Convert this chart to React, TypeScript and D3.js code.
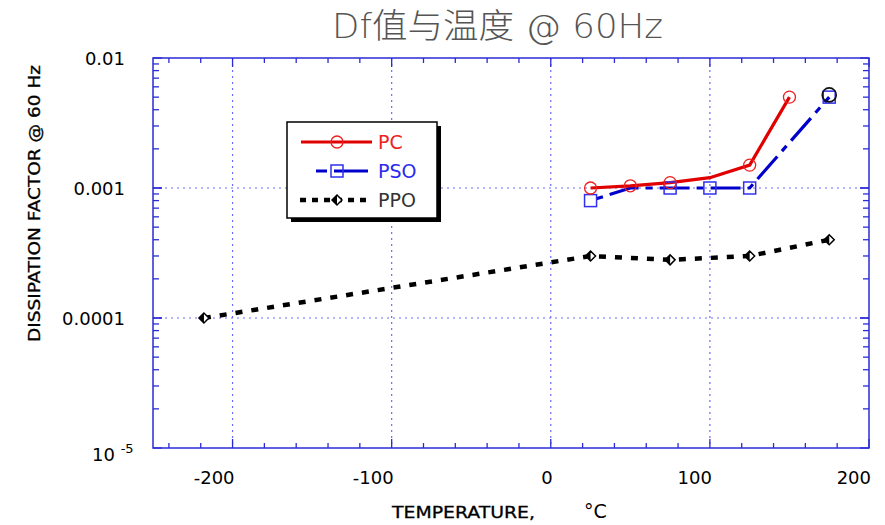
import React, { useRef, useEffect } from "react";
import * as d3 from "d3";

// data
const pcTemp = [25, 50, 75, 100, 125, 150];
const pcDf = [0.001, 0.00104, 0.0011, 0.0012, 0.0015, 0.005];
const pcMark = [true, true, true, false, true, true];

const psoTemp = [25, 50, 75, 100, 125, 175];
const psoDf = [0.0008, 0.001, 0.001, 0.001, 0.001, 0.005];
const psoMark = [true, false, true, true, true, true];

const ppoTemp = [-218, 25, 75, 125, 175];
const ppoDf = [0.0001, 0.0003, 0.00028, 0.0003, 0.0004];

const circledTemp = [175];
const circledDf = [0.0052];

const xTicks = [-200, -100, 0, 100, 200];
const yTicks = [0.01, 0.001, 0.0001];
const yTickLabels = ["0.01", "0.001", "0.0001"];

const W = 885, H = 525;
const FONT = "'DejaVu Sans', Lato, sans-serif";
const AXIS = "#2b2bd6";
const GRID = "#6a6aff";

function App() {
    const svgRef = useRef(null);

    useEffect(() => {
        const svg = d3.select(svgRef.current);
        svg.selectAll("*").remove();

        const x = d3.scaleLinear().domain([-250, 200]).range([153, 869]);
        const y = d3.scaleLog().domain([1e-5, 1e-2]).range([448, 58]);
        const [x0, x1] = x.range();
        const [y0, y1] = y.range();

        // grid
        const g = svg.append("g");
        g.selectAll(".gx")
            .data(xTicks.filter(t => t < 200))
            .join("line")
            .attr("x1", d => x(d)).attr("x2", d => x(d))
            .attr("y1", y1).attr("y2", y0)
            .attr("stroke", GRID).attr("stroke-width", 1.2)
            .attr("stroke-dasharray", "2,4");
        g.selectAll(".gy")
            .data(yTicks.filter(t => t < 0.01))
            .join("line")
            .attr("x1", x0).attr("x2", x1)
            .attr("y1", d => y(d)).attr("y2", d => y(d))
            .attr("stroke", GRID).attr("stroke-width", 1.2)
            .attr("stroke-dasharray", "2,4");

        // minor ticks
        const xMinor = d3.range(-240, 201, 20);
        const yMinor = [];
        [1e-5, 1e-4, 1e-3].forEach(dec => {
            for (let k = 1; k <= 10; k++) yMinor.push(dec * k);
        });
        const tk = svg.append("g").attr("stroke", AXIS).attr("stroke-width", 1.3);
        xMinor.forEach(t => {
            const len = t % 100 === 0 ? 9 : 5;
            tk.append("line").attr("x1", x(t)).attr("x2", x(t)).attr("y1", y0).attr("y2", y0 - len);
            tk.append("line").attr("x1", x(t)).attr("x2", x(t)).attr("y1", y1).attr("y2", y1 + len);
        });
        yMinor.forEach(t => {
            const isMajor = Math.abs(Math.log10(t) - Math.round(Math.log10(t))) < 1e-9;
            const len = isMajor ? 9 : 6;
            tk.append("line").attr("x1", x0).attr("x2", x0 + len).attr("y1", y(t)).attr("y2", y(t));
            tk.append("line").attr("x1", x1).attr("x2", x1 - len).attr("y1", y(t)).attr("y2", y(t));
        });

        // frame
        svg.append("rect")
            .attr("x", x0).attr("y", y1)
            .attr("width", x1 - x0).attr("height", y0 - y1)
            .attr("fill", "none").attr("stroke", AXIS).attr("stroke-width", 1.5);

        // tick labels
        svg.selectAll(".xl")
            .data(xTicks)
            .join("text")
            .attr("x", d => x(d) + 2).attr("y", 484)
            .attr("text-anchor", "end")
            .attr("font-family", FONT).attr("font-size", 18)
            .text(d => d);
        svg.selectAll(".yl")
            .data(yTicks)
            .join("text")
            .attr("x", 125).attr("y", d => y(d) + 7)
            .attr("text-anchor", "end")
            .attr("font-family", FONT).attr("font-size", 18)
            .text((d, i) => yTickLabels[i]);
        const e5 = svg.append("text")
            .attr("x", 92).attr("y", 461)
            .attr("font-family", FONT).attr("font-size", 18);
        e5.append("tspan").text("10 ");
        e5.append("tspan").attr("dy", -8).attr("font-size", 13).text("-5");

        // axis titles
        svg.append("text")
            .attr("transform", "translate(40,203.5) rotate(-90)")
            .attr("text-anchor", "middle")
            .attr("font-family", FONT).attr("font-size", 16)
            .attr("stroke", "#000").attr("stroke-width", 0.3)
            .attr("textLength", 277).attr("lengthAdjust", "spacingAndGlyphs")
            .text("DISSIPATION FACTOR @ 60 Hz");
        svg.append("text")
            .attr("x", 392).attr("y", 518)
            .attr("font-family", FONT).attr("font-size", 16)
            .attr("stroke", "#000").attr("stroke-width", 0.3)
            .attr("textLength", 143).attr("lengthAdjust", "spacingAndGlyphs")
            .text("TEMPERATURE,");
        svg.append("text")
            .attr("x", 584).attr("y", 518)
            .attr("font-family", FONT).attr("font-size", 19)
            .text("°C");

        // title
        svg.append("text")
            .attr("x", 332).attr("y", 38)
            .attr("font-family", "'DejaVu Sans', 'Noto Sans CJK SC', sans-serif")
            .attr("font-weight", 200)
            .attr("font-size", 34).attr("fill", "#555")
            .attr("textLength", 331).attr("lengthAdjust", "spacingAndGlyphs")
            .text("Df值与温度 @ 60Hz");

        // lines
        const line = d3.line().x(d => x(d[0])).y(d => y(d[1]));

        svg.append("path")
            .datum(ppoTemp.map((t, i) => [t, ppoDf[i]]))
            .attr("d", line)
            .attr("fill", "none").attr("stroke", "#000").attr("stroke-width", 4.5)
            .attr("stroke-dasharray", "7,9");
        svg.append("path")
            .datum(psoTemp.map((t, i) => [t, psoDf[i]]))
            .attr("d", line)
            .attr("fill", "none").attr("stroke", "#0000cc").attr("stroke-width", 3.2)
            .attr("stroke-dasharray", "30,7,7,7")
            .attr("stroke-dashoffset", -20);
        svg.append("path")
            .datum(pcTemp.map((t, i) => [t, pcDf[i]]))
            .attr("d", line)
            .attr("fill", "none").attr("stroke", "#e00000").attr("stroke-width", 3.2);

        // markers
        const diamond = (cx, cy, s) => {
            const m = svg.append("g").attr("transform", `translate(${cx},${cy})`);
            m.append("path").attr("d", `M${-s},0L0,${-s}L${s},0L0,${s}Z`)
                .attr("fill", "#fff").attr("stroke", "#000").attr("stroke-width", 1.5);
            m.append("path").attr("d", `M${-s},0L0,${-s}L0,${s}Z`).attr("fill", "#000");
        };
        const square = (cx, cy) => svg.append("rect")
            .attr("x", cx - 6).attr("y", cy - 6).attr("width", 12).attr("height", 12)
            .attr("fill", "none").attr("stroke", "#3030ee").attr("stroke-width", 1.5);
        const circle = (cx, cy) => svg.append("circle")
            .attr("cx", cx).attr("cy", cy).attr("r", 6)
            .attr("fill", "none").attr("stroke", "#ee2020").attr("stroke-width", 1.3);

        ppoTemp.forEach((t, i) => diamond(x(t), y(ppoDf[i]), 5));
        psoTemp.forEach((t, i) => { if (psoMark[i]) square(x(t), y(psoDf[i])); });
        pcTemp.forEach((t, i) => { if (pcMark[i]) circle(x(t), y(pcDf[i])); });
        circledTemp.forEach((t, i) => svg.append("circle")
            .attr("cx", x(t)).attr("cy", y(circledDf[i])).attr("r", 7)
            .attr("fill", "none").attr("stroke", "#111").attr("stroke-width", 1.6));

        // legend
        const lg = svg.append("g");
        lg.append("rect").attr("x", 291).attr("y", 126).attr("width", 150).attr("height", 96).attr("fill", "#000");
        lg.append("rect").attr("x", 287).attr("y", 122).attr("width", 150).attr("height", 96)
            .attr("fill", "#fff").attr("stroke", "#000").attr("stroke-width", 1.5);
        const items = [
            { name: "PC", text: "#ee2222", y: 142 },
            { name: "PSO", text: "#2a2aee", y: 171 },
            { name: "PPO", text: "#333", y: 200 },
        ];
        lg.append("line").attr("x1", 301).attr("x2", 372).attr("y1", 142).attr("y2", 142)
            .attr("stroke", "#e00000").attr("stroke-width", 3.2);
        circle(337, 142);
        lg.append("line").attr("x1", 316).attr("x2", 368).attr("y1", 171).attr("y2", 171)
            .attr("stroke", "#0000cc").attr("stroke-width", 3.2).attr("stroke-dasharray", "11,7,100");
        square(337, 171);
        lg.append("line").attr("x1", 300).attr("x2", 372).attr("y1", 200).attr("y2", 200)
            .attr("stroke", "#000").attr("stroke-width", 4.5).attr("stroke-dasharray", "6,6");
        diamond(337, 200, 5);
        lg.selectAll(".lt")
            .data(items)
            .join("text")
            .attr("x", 378).attr("y", d => d.y + 7)
            .attr("font-family", FONT).attr("font-size", 19)
            .attr("fill", d => d.text)
            .text(d => d.name);
    }, []);

    return (
        <svg ref={svgRef} width={W} height={H} style={{ display: "block", position: "absolute", left: 0, top: 0, background: "#fff" }} />
    );
}

export default App;
